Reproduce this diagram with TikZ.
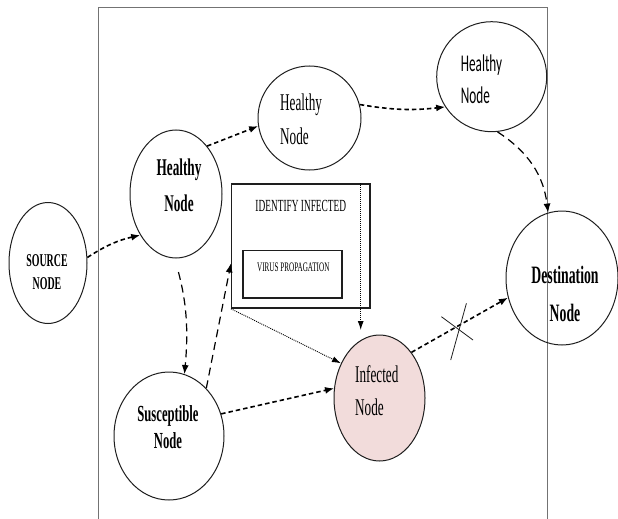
\documentclass[tikz,border=0pt]{standalone}
\usepackage{fontspec}
\setmainfont{Liberation Serif}[FakeStretch=0.55]
\newfontfamily\calibfont{Carlito}[FakeStretch=0.55]
\usetikzlibrary{shapes.geometric,arrows.meta}
\definecolor{nodeblack}{RGB}{30,30,30}
\definecolor{framegray}{RGB}{115,115,115}
\definecolor{infpink}{RGB}{242,220,219}

\begin{document}
\begin{tikzpicture}[x=1pt,y=-1pt,
    netnode/.style={ellipse,draw=nodeblack,line width=1pt,inner sep=0pt},
    lbl/.style={inner sep=0pt,align=center},
    hop/.style={line width=1.6pt,dash pattern=on 4.5pt off 3pt,-{Latex[length=9pt,width=7pt]}},
    longhop/.style={line width=1.2pt,dash pattern=on 8pt off 5pt,-{Latex[length=9pt,width=7pt]}},
    probe/.style={line width=0.9pt,dash pattern=on 1pt off 1pt,-{Latex[length=9pt,width=6pt]}}]
    \useasboundingbox (0,0) rectangle (618,519);
    \draw[framegray,line width=1pt] (98.5,530) -- (98.5,7.3) -- (547.3,7.3) -- (547.3,530);

    % nodes of the network
    \node[netnode,minimum width=78pt,minimum height=121pt] (src) at (48,263) {};
    \node[netnode,minimum width=92pt,minimum height=128pt] (hlthA) at (176,194) {};
    \node[netnode,minimum width=103pt,minimum height=104pt] (hlthB) at (309.5,118) {};
    \node[netnode,minimum width=110pt,minimum height=110pt] (hlthC) at (491.7,76.7) {};
    \node[netnode,minimum width=112pt,minimum height=134pt] (dest) at (562,278) {};
    \node[netnode,minimum width=110pt,minimum height=128pt] (susc) at (169,436) {};
    \node[netnode,fill=infpink,minimum width=91pt,minimum height=126pt] (infd) at (379.5,398) {};
    \node[draw=nodeblack,line width=1.5pt,inner sep=0pt,minimum width=138.3pt,minimum height=124pt] (idbox) at (300.8,246) {};
    \node[draw=nodeblack,line width=1.2pt,inner sep=0pt,minimum width=99pt,minimum height=47.3pt] (vpbox) at (292.5,274.3) {};

    \node[lbl,font=\bfseries\fontsize{18}{23}\selectfont] (srctxt) at (47,272.5) {SOURCE\\NODE};
    \node[lbl,font=\bfseries\fontsize{24}{35.7}\selectfont] (hlthAtxt) at (179,185.6) {Healthy\\Node};
    \node[lbl,align=left,anchor=west,font=\fontsize{24}{33.7}\selectfont] (hlthBtxt) at (280,119.2) {Healthy\\Node};
    \node[lbl,align=left,anchor=west,font=\calibfont\fontsize{24}{32}\selectfont] (hlthCtxt) at (460.7,79) {Healthy\\Node};
    \node[lbl,font=\bfseries\fontsize{25}{38.4}\selectfont] (desttxt) at (565,293.9) {Destination\\Node};
    \node[lbl,font=\bfseries\fontsize{23}{26.6}\selectfont] (susctxt) at (168,427) {Susceptible\\Node};
    \node[lbl,align=left,anchor=west,font=\fontsize{24}{32.3}\selectfont] (infdtxt) at (355,390.7) {Infected\\Node};
    \node[lbl,font=\fontsize{17}{20}\selectfont] (idtxt) at (300.8,206) {IDENTIFY INFECTED};
    \node[lbl,font=\fontsize{13}{15}\selectfont] (vptxt) at (293.3,267.4) {VIRUS PROPAGATION};

    % connectors
    \draw[hop] (src.8) to[bend left=10] (hlthA.229);
    \draw[hop] (hlthA.57) -- (hlthB.189);
    \draw[hop] (hlthB.15) to[bend right=8] (hlthC.213);
    \draw[longhop] (hlthC.276) to[bend left=25] (dest.102);
    \draw[longhop,shorten <=14pt] (hlthA.269) to[bend left=10] (susc.76);
    \draw[longhop] (susc.52) -- (idbox.194);
    \draw[hop] (susc.23) -- (infd.168);
    \coordinate (probeend) at (360.7,330);
    \draw[probe] (idbox.south west) -- (infd.138);
    \draw[probe] (idbox.north -| probeend) -- (probeend);
    \draw[hop] (infd.55) -- coordinate[pos=0.5] (cut) (dest.200);
    \draw[nodeblack,line width=0.8pt] ([shift={(6.7,-21.7)}]cut) -- ([shift={(-9,35)}]cut);
    \draw[nodeblack,line width=0.8pt] ([shift={(-18.3,-8.3)}]cut) -- ([shift={(13.3,15)}]cut);
\end{tikzpicture}
\end{document}
